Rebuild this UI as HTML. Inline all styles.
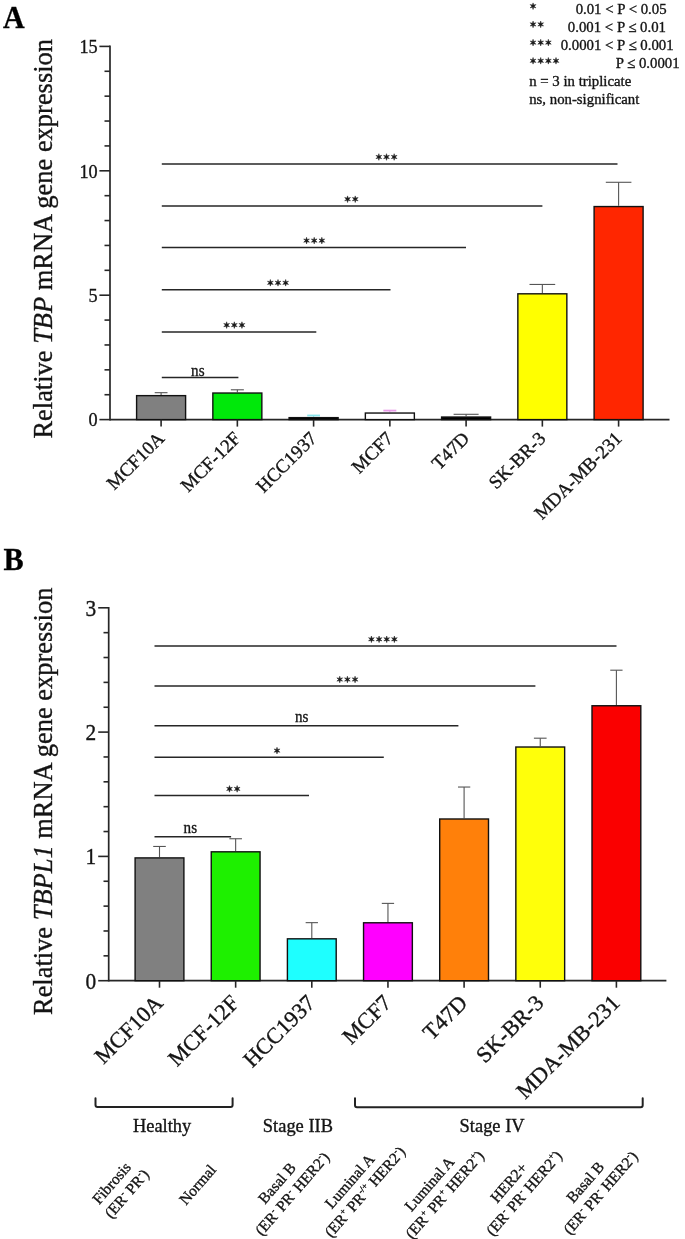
<!DOCTYPE html>
<html><head><meta charset="utf-8"><style>
html,body{margin:0;padding:0;background:#fff;}
body{width:685px;height:1239px;overflow:hidden;}
svg{display:block;font-family:"Liberation Serif", serif;will-change:transform;}
text{stroke:#141414;stroke-width:0.35px;}
</style></head><body>
<svg width="685" height="1239" viewBox="0 0 685 1239">
<rect width="685" height="1239" fill="#fff"/>
<text transform="translate(3.00,27.90) scale(0.97,1)" font-size="30.9" text-anchor="start" font-weight="bold" font-style="normal" fill="#000" >A</text>
<line x1="110.00" y1="45.60" x2="110.00" y2="420.40" stroke="#262626" stroke-width="1.7"/>
<line x1="99.40" y1="419.60" x2="110.00" y2="419.60" stroke="#262626" stroke-width="1.6"/>
<text transform="translate(97.60,426.30) scale(0.93,1)" font-size="19.6" text-anchor="end" font-weight="normal" font-style="normal" fill="#141414" >0</text>
<line x1="104.50" y1="394.72" x2="110.00" y2="394.72" stroke="#262626" stroke-width="1.6"/>
<line x1="104.50" y1="369.84" x2="110.00" y2="369.84" stroke="#262626" stroke-width="1.6"/>
<line x1="104.50" y1="344.96" x2="110.00" y2="344.96" stroke="#262626" stroke-width="1.6"/>
<line x1="104.50" y1="320.08" x2="110.00" y2="320.08" stroke="#262626" stroke-width="1.6"/>
<line x1="99.40" y1="295.20" x2="110.00" y2="295.20" stroke="#262626" stroke-width="1.6"/>
<text transform="translate(97.60,301.90) scale(0.93,1)" font-size="19.6" text-anchor="end" font-weight="normal" font-style="normal" fill="#141414" >5</text>
<line x1="104.50" y1="270.32" x2="110.00" y2="270.32" stroke="#262626" stroke-width="1.6"/>
<line x1="104.50" y1="245.44" x2="110.00" y2="245.44" stroke="#262626" stroke-width="1.6"/>
<line x1="104.50" y1="220.56" x2="110.00" y2="220.56" stroke="#262626" stroke-width="1.6"/>
<line x1="104.50" y1="195.68" x2="110.00" y2="195.68" stroke="#262626" stroke-width="1.6"/>
<line x1="99.40" y1="170.80" x2="110.00" y2="170.80" stroke="#262626" stroke-width="1.6"/>
<text transform="translate(97.60,177.50) scale(0.93,1)" font-size="19.6" text-anchor="end" font-weight="normal" font-style="normal" fill="#141414" >10</text>
<line x1="104.50" y1="145.92" x2="110.00" y2="145.92" stroke="#262626" stroke-width="1.6"/>
<line x1="104.50" y1="121.04" x2="110.00" y2="121.04" stroke="#262626" stroke-width="1.6"/>
<line x1="104.50" y1="96.16" x2="110.00" y2="96.16" stroke="#262626" stroke-width="1.6"/>
<line x1="104.50" y1="71.28" x2="110.00" y2="71.28" stroke="#262626" stroke-width="1.6"/>
<line x1="99.40" y1="46.40" x2="110.00" y2="46.40" stroke="#262626" stroke-width="1.6"/>
<text transform="translate(97.60,53.10) scale(0.93,1)" font-size="19.6" text-anchor="end" font-weight="normal" font-style="normal" fill="#141414" >15</text>
<line x1="110.00" y1="419.60" x2="669.50" y2="419.60" stroke="#262626" stroke-width="1.7"/>
<text transform="translate(52.3,438.6) rotate(-90)" font-size="27.6" textLength="399.6" lengthAdjust="spacingAndGlyphs" fill="#141414">Relative <tspan font-style="italic">TBP</tspan> mRNA gene expression</text>
<line x1="161.10" y1="392.68" x2="161.10" y2="394.89" stroke="#555" stroke-width="1.1"/>
<line x1="154.70" y1="392.68" x2="167.50" y2="392.68" stroke="#555" stroke-width="1.1"/>
<rect x="136.60" y="395.64" width="49.00" height="23.96" fill="#808080" stroke="#111" stroke-width="1.4"/>
<line x1="161.10" y1="419.60" x2="161.10" y2="426.60" stroke="#262626" stroke-width="1.6"/>
<text transform="translate(165.50,439.50) rotate(-45)" font-size="18.9" text-anchor="end" fill="#141414">MCF10A</text>
<line x1="237.35" y1="389.79" x2="237.35" y2="392.28" stroke="#555" stroke-width="1.1"/>
<line x1="230.85" y1="389.79" x2="243.85" y2="389.79" stroke="#555" stroke-width="1.1"/>
<rect x="212.85" y="393.03" width="49.00" height="26.57" fill="#00e80a" stroke="#111" stroke-width="1.4"/>
<line x1="237.35" y1="419.60" x2="237.35" y2="426.60" stroke="#262626" stroke-width="1.6"/>
<text transform="translate(241.75,439.50) rotate(-45)" font-size="18.9" text-anchor="end" fill="#141414">MCF-12F</text>
<line x1="313.60" y1="415.49" x2="313.60" y2="416.89" stroke="#8be6ec" stroke-width="1.1"/>
<line x1="307.20" y1="415.49" x2="320.00" y2="415.49" stroke="#8be6ec" stroke-width="1.8"/>
<rect x="289.10" y="417.64" width="49.00" height="1.96" fill="#000" stroke="#111" stroke-width="1.4"/>
<line x1="313.60" y1="419.60" x2="313.60" y2="426.60" stroke="#262626" stroke-width="1.6"/>
<text transform="translate(318.00,439.50) rotate(-45)" font-size="18.9" text-anchor="end" fill="#141414">HCC1937</text>
<line x1="389.85" y1="410.59" x2="389.85" y2="412.29" stroke="#e89ae8" stroke-width="1.1"/>
<line x1="383.35" y1="410.59" x2="396.35" y2="410.59" stroke="#e89ae8" stroke-width="1.8"/>
<rect x="365.35" y="413.04" width="49.00" height="6.56" fill="#fff" stroke="#111" stroke-width="1.4"/>
<line x1="389.85" y1="419.60" x2="389.85" y2="426.60" stroke="#262626" stroke-width="1.6"/>
<text transform="translate(394.25,439.50) rotate(-45)" font-size="18.9" text-anchor="end" fill="#141414">MCF7</text>
<line x1="466.10" y1="414.30" x2="466.10" y2="416.29" stroke="#555" stroke-width="1.1"/>
<line x1="453.60" y1="414.30" x2="478.60" y2="414.30" stroke="#555" stroke-width="1.1"/>
<rect x="441.60" y="417.04" width="49.00" height="2.56" fill="#000" stroke="#111" stroke-width="1.4"/>
<line x1="466.10" y1="419.60" x2="466.10" y2="426.60" stroke="#262626" stroke-width="1.6"/>
<text transform="translate(470.50,439.50) rotate(-45)" font-size="18.9" text-anchor="end" fill="#141414">T47D</text>
<line x1="542.35" y1="284.45" x2="542.35" y2="293.06" stroke="#555" stroke-width="1.1"/>
<line x1="529.50" y1="284.45" x2="555.20" y2="284.45" stroke="#555" stroke-width="1.1"/>
<rect x="517.85" y="293.81" width="49.00" height="125.79" fill="#ffff00" stroke="#111" stroke-width="1.4"/>
<line x1="542.35" y1="419.60" x2="542.35" y2="426.60" stroke="#262626" stroke-width="1.6"/>
<text transform="translate(546.75,439.50) rotate(-45)" font-size="18.9" text-anchor="end" fill="#141414">SK-BR-3</text>
<line x1="618.60" y1="182.29" x2="618.60" y2="205.81" stroke="#555" stroke-width="1.1"/>
<line x1="605.80" y1="182.29" x2="631.40" y2="182.29" stroke="#555" stroke-width="1.1"/>
<rect x="594.10" y="206.56" width="49.00" height="213.04" fill="#ff2600" stroke="#111" stroke-width="1.4"/>
<line x1="618.60" y1="419.60" x2="618.60" y2="426.60" stroke="#262626" stroke-width="1.6"/>
<text transform="translate(623.00,439.50) rotate(-45)" font-size="18.9" text-anchor="end" fill="#141414">MDA-MB-231</text>
<line x1="161.80" y1="163.90" x2="617.50" y2="163.90" stroke="#262626" stroke-width="1.5"/>
<path d="M378.85,153.70L378.23,155.92L375.99,155.35L377.60,157.00L375.99,158.65L378.23,158.08L378.85,160.30L379.48,158.08L381.71,158.65L380.10,157.00L381.71,155.35L379.48,155.92ZM386.50,153.70L385.88,155.92L383.64,155.35L385.25,157.00L383.64,158.65L385.88,158.08L386.50,160.30L387.12,158.08L389.36,158.65L387.75,157.00L389.36,155.35L387.12,155.92ZM394.15,153.70L393.53,155.92L391.29,155.35L392.90,157.00L391.29,158.65L393.53,158.08L394.15,160.30L394.78,158.08L397.01,158.65L395.40,157.00L397.01,155.35L394.78,155.92Z" fill="#1a1a1a" stroke="#1a1a1a" stroke-width="0.5" stroke-linejoin="round"/>
<line x1="161.80" y1="206.10" x2="542.40" y2="206.10" stroke="#262626" stroke-width="1.5"/>
<path d="M347.57,195.90L346.95,198.12L344.72,197.55L346.32,199.20L344.72,200.85L346.95,200.28L347.57,202.50L348.20,200.28L350.43,200.85L348.82,199.20L350.43,197.55L348.20,198.12ZM355.22,195.90L354.60,198.12L352.37,197.55L353.97,199.20L352.37,200.85L354.60,200.28L355.22,202.50L355.85,200.28L358.08,200.85L356.47,199.20L358.08,197.55L355.85,198.12Z" fill="#1a1a1a" stroke="#1a1a1a" stroke-width="0.5" stroke-linejoin="round"/>
<line x1="161.80" y1="247.50" x2="466.00" y2="247.50" stroke="#262626" stroke-width="1.5"/>
<path d="M306.55,237.30L305.93,239.52L303.69,238.95L305.30,240.60L303.69,242.25L305.93,241.68L306.55,243.90L307.18,241.68L309.41,242.25L307.80,240.60L309.41,238.95L307.18,239.52ZM314.20,237.30L313.57,239.52L311.34,238.95L312.95,240.60L311.34,242.25L313.57,241.68L314.20,243.90L314.82,241.68L317.06,242.25L315.45,240.60L317.06,238.95L314.82,239.52ZM321.85,237.30L321.23,239.52L318.99,238.95L320.60,240.60L318.99,242.25L321.23,241.68L321.85,243.90L322.48,241.68L324.71,242.25L323.10,240.60L324.71,238.95L322.48,239.52Z" fill="#1a1a1a" stroke="#1a1a1a" stroke-width="0.5" stroke-linejoin="round"/>
<line x1="161.80" y1="289.70" x2="390.50" y2="289.70" stroke="#262626" stroke-width="1.5"/>
<path d="M270.35,279.50L269.73,281.72L267.49,281.15L269.10,282.80L267.49,284.45L269.73,283.88L270.35,286.10L270.98,283.88L273.21,284.45L271.60,282.80L273.21,281.15L270.98,281.72ZM278.00,279.50L277.38,281.72L275.14,281.15L276.75,282.80L275.14,284.45L277.38,283.88L278.00,286.10L278.62,283.88L280.86,284.45L279.25,282.80L280.86,281.15L278.62,281.72ZM285.65,279.50L285.03,281.72L282.79,281.15L284.40,282.80L282.79,284.45L285.03,283.88L285.65,286.10L286.28,283.88L288.51,284.45L286.90,282.80L288.51,281.15L286.28,281.72Z" fill="#1a1a1a" stroke="#1a1a1a" stroke-width="0.5" stroke-linejoin="round"/>
<line x1="161.80" y1="332.00" x2="316.30" y2="332.00" stroke="#262626" stroke-width="1.5"/>
<path d="M226.65,321.80L226.03,324.02L223.79,323.45L225.40,325.10L223.79,326.75L226.03,326.18L226.65,328.40L227.28,326.18L229.51,326.75L227.90,325.10L229.51,323.45L227.28,324.02ZM234.30,321.80L233.68,324.02L231.44,323.45L233.05,325.10L231.44,326.75L233.68,326.18L234.30,328.40L234.93,326.18L237.16,326.75L235.55,325.10L237.16,323.45L234.93,324.02ZM241.95,321.80L241.33,324.02L239.09,323.45L240.70,325.10L239.09,326.75L241.33,326.18L241.95,328.40L242.58,326.18L244.81,326.75L243.20,325.10L244.81,323.45L242.58,324.02Z" fill="#1a1a1a" stroke="#1a1a1a" stroke-width="0.5" stroke-linejoin="round"/>
<line x1="161.80" y1="377.50" x2="238.40" y2="377.50" stroke="#262626" stroke-width="1.5"/>
<text transform="translate(197.80,375.50) scale(0.88,1)" font-size="17.2" text-anchor="middle" font-weight="normal" font-style="normal" fill="#141414" >ns</text>
<path d="M533.05,2.90L532.43,5.12L530.19,4.55L531.80,6.20L530.19,7.85L532.43,7.28L533.05,9.50L533.68,7.28L535.91,7.85L534.30,6.20L535.91,4.55L533.68,5.12Z" fill="#1a1a1a" stroke="#1a1a1a" stroke-width="0.5" stroke-linejoin="round"/>
<path d="M533.05,21.10L532.43,23.32L530.19,22.75L531.80,24.40L530.19,26.05L532.43,25.48L533.05,27.70L533.68,25.48L535.91,26.05L534.30,24.40L535.91,22.75L533.68,23.32ZM540.70,21.10L540.08,23.32L537.84,22.75L539.45,24.40L537.84,26.05L540.08,25.48L540.70,27.70L541.33,25.48L543.56,26.05L541.95,24.40L543.56,22.75L541.33,23.32Z" fill="#1a1a1a" stroke="#1a1a1a" stroke-width="0.5" stroke-linejoin="round"/>
<path d="M533.05,39.30L532.43,41.52L530.19,40.95L531.80,42.60L530.19,44.25L532.43,43.68L533.05,45.90L533.68,43.68L535.91,44.25L534.30,42.60L535.91,40.95L533.68,41.52ZM540.70,39.30L540.08,41.52L537.84,40.95L539.45,42.60L537.84,44.25L540.08,43.68L540.70,45.90L541.33,43.68L543.56,44.25L541.95,42.60L543.56,40.95L541.33,41.52ZM548.35,39.30L547.73,41.52L545.49,40.95L547.10,42.60L545.49,44.25L547.73,43.68L548.35,45.90L548.98,43.68L551.21,44.25L549.60,42.60L551.21,40.95L548.98,41.52Z" fill="#1a1a1a" stroke="#1a1a1a" stroke-width="0.5" stroke-linejoin="round"/>
<path d="M533.05,57.50L532.43,59.72L530.19,59.15L531.80,60.80L530.19,62.45L532.43,61.88L533.05,64.10L533.68,61.88L535.91,62.45L534.30,60.80L535.91,59.15L533.68,59.72ZM540.70,57.50L540.08,59.72L537.84,59.15L539.45,60.80L537.84,62.45L540.08,61.88L540.70,64.10L541.33,61.88L543.56,62.45L541.95,60.80L543.56,59.15L541.33,59.72ZM548.35,57.50L547.73,59.72L545.49,59.15L547.10,60.80L545.49,62.45L547.73,61.88L548.35,64.10L548.98,61.88L551.21,62.45L549.60,60.80L551.21,59.15L548.98,59.72ZM556.00,57.50L555.38,59.72L553.14,59.15L554.75,60.80L553.14,62.45L555.38,61.88L556.00,64.10L556.63,61.88L558.86,62.45L557.25,60.80L558.86,59.15L556.63,59.72Z" fill="#1a1a1a" stroke="#1a1a1a" stroke-width="0.5" stroke-linejoin="round"/>
<text x="666.60" y="13.60" font-size="14.8" text-anchor="end" font-weight="normal" font-style="normal" fill="#141414" >0.01 &lt; P &lt; 0.05</text>
<text x="666.00" y="31.60" font-size="14.8" text-anchor="end" font-weight="normal" font-style="normal" fill="#141414" >0.001 &lt; P ≤ 0.01</text>
<text x="673.60" y="49.60" font-size="14.8" text-anchor="end" font-weight="normal" font-style="normal" fill="#141414" >0.0001 &lt; P ≤ 0.001</text>
<text x="679.60" y="67.60" font-size="14.8" text-anchor="end" font-weight="normal" font-style="normal" fill="#141414" >P ≤ 0.0001</text>
<text x="529.20" y="85.60" font-size="14.8" text-anchor="start" font-weight="normal" font-style="normal" fill="#141414" >n = 3 in triplicate</text>
<text x="529.20" y="103.60" font-size="14.8" text-anchor="start" font-weight="normal" font-style="normal" fill="#141414" >ns, non-significant</text>
<text transform="translate(3.40,569.70) scale(0.96,1)" font-size="31.5" text-anchor="start" font-weight="bold" font-style="normal" fill="#000" >B</text>
<line x1="108.70" y1="607.00" x2="108.70" y2="981.50" stroke="#262626" stroke-width="1.7"/>
<line x1="98.20" y1="980.70" x2="108.70" y2="980.70" stroke="#262626" stroke-width="1.6"/>
<text transform="translate(96.30,988.50) scale(0.93,1)" font-size="23" text-anchor="end" font-weight="normal" font-style="normal" fill="#141414" >0</text>
<line x1="103.50" y1="955.84" x2="108.70" y2="955.84" stroke="#262626" stroke-width="1.6"/>
<line x1="103.50" y1="930.98" x2="108.70" y2="930.98" stroke="#262626" stroke-width="1.6"/>
<line x1="103.50" y1="906.12" x2="108.70" y2="906.12" stroke="#262626" stroke-width="1.6"/>
<line x1="103.50" y1="881.26" x2="108.70" y2="881.26" stroke="#262626" stroke-width="1.6"/>
<line x1="98.20" y1="856.40" x2="108.70" y2="856.40" stroke="#262626" stroke-width="1.6"/>
<text transform="translate(96.30,864.20) scale(0.93,1)" font-size="23" text-anchor="end" font-weight="normal" font-style="normal" fill="#141414" >1</text>
<line x1="103.50" y1="831.54" x2="108.70" y2="831.54" stroke="#262626" stroke-width="1.6"/>
<line x1="103.50" y1="806.68" x2="108.70" y2="806.68" stroke="#262626" stroke-width="1.6"/>
<line x1="103.50" y1="781.82" x2="108.70" y2="781.82" stroke="#262626" stroke-width="1.6"/>
<line x1="103.50" y1="756.96" x2="108.70" y2="756.96" stroke="#262626" stroke-width="1.6"/>
<line x1="98.20" y1="732.10" x2="108.70" y2="732.10" stroke="#262626" stroke-width="1.6"/>
<text transform="translate(96.30,739.90) scale(0.93,1)" font-size="23" text-anchor="end" font-weight="normal" font-style="normal" fill="#141414" >2</text>
<line x1="103.50" y1="707.24" x2="108.70" y2="707.24" stroke="#262626" stroke-width="1.6"/>
<line x1="103.50" y1="682.38" x2="108.70" y2="682.38" stroke="#262626" stroke-width="1.6"/>
<line x1="103.50" y1="657.52" x2="108.70" y2="657.52" stroke="#262626" stroke-width="1.6"/>
<line x1="103.50" y1="632.66" x2="108.70" y2="632.66" stroke="#262626" stroke-width="1.6"/>
<line x1="98.20" y1="607.80" x2="108.70" y2="607.80" stroke="#262626" stroke-width="1.6"/>
<text transform="translate(96.30,615.60) scale(0.93,1)" font-size="23" text-anchor="end" font-weight="normal" font-style="normal" fill="#141414" >3</text>
<line x1="108.70" y1="980.70" x2="666.40" y2="980.70" stroke="#262626" stroke-width="1.7"/>
<text transform="translate(52.1,1015) rotate(-90)" font-size="27.6" textLength="427.4" lengthAdjust="spacingAndGlyphs" fill="#141414">Relative <tspan font-style="italic">TBPL1</tspan> mRNA gene expression</text>
<line x1="159.50" y1="846.46" x2="159.50" y2="857.15" stroke="#555" stroke-width="1.1"/>
<line x1="153.20" y1="846.46" x2="165.80" y2="846.46" stroke="#555" stroke-width="1.1"/>
<rect x="135.10" y="857.90" width="48.80" height="122.80" fill="#808080" stroke="#111" stroke-width="1.4"/>
<line x1="159.50" y1="980.70" x2="159.50" y2="987.70" stroke="#262626" stroke-width="1.6"/>
<text transform="translate(164.20,1004.20) rotate(-45)" font-size="22.4" text-anchor="end" fill="#141414">MCF10A</text>
<line x1="235.65" y1="838.75" x2="235.65" y2="851.06" stroke="#555" stroke-width="1.1"/>
<line x1="229.35" y1="838.75" x2="241.95" y2="838.75" stroke="#555" stroke-width="1.1"/>
<rect x="211.25" y="851.81" width="48.80" height="128.89" fill="#1ef000" stroke="#111" stroke-width="1.4"/>
<line x1="235.65" y1="980.70" x2="235.65" y2="987.70" stroke="#262626" stroke-width="1.6"/>
<text transform="translate(240.35,1004.20) rotate(-45)" font-size="22.4" text-anchor="end" fill="#141414">MCF-12F</text>
<line x1="311.80" y1="922.65" x2="311.80" y2="938.07" stroke="#555" stroke-width="1.1"/>
<line x1="305.65" y1="922.65" x2="317.95" y2="922.65" stroke="#555" stroke-width="1.1"/>
<rect x="287.40" y="938.82" width="48.80" height="41.88" fill="#1effff" stroke="#111" stroke-width="1.4"/>
<line x1="311.80" y1="980.70" x2="311.80" y2="987.70" stroke="#262626" stroke-width="1.6"/>
<text transform="translate(316.50,1004.20) rotate(-45)" font-size="22.4" text-anchor="end" fill="#141414">HCC1937</text>
<line x1="387.95" y1="903.39" x2="387.95" y2="922.03" stroke="#555" stroke-width="1.1"/>
<line x1="381.80" y1="903.39" x2="394.10" y2="903.39" stroke="#555" stroke-width="1.1"/>
<rect x="363.55" y="922.78" width="48.80" height="57.92" fill="#ff00ff" stroke="#111" stroke-width="1.4"/>
<line x1="387.95" y1="980.70" x2="387.95" y2="987.70" stroke="#262626" stroke-width="1.6"/>
<text transform="translate(392.65,1004.20) rotate(-45)" font-size="22.4" text-anchor="end" fill="#141414">MCF7</text>
<line x1="464.10" y1="787.04" x2="464.10" y2="818.24" stroke="#555" stroke-width="1.1"/>
<line x1="457.95" y1="787.04" x2="470.25" y2="787.04" stroke="#555" stroke-width="1.1"/>
<rect x="439.70" y="818.99" width="48.80" height="161.71" fill="#ff800a" stroke="#111" stroke-width="1.4"/>
<line x1="464.10" y1="980.70" x2="464.10" y2="987.70" stroke="#262626" stroke-width="1.6"/>
<text transform="translate(468.80,1004.20) rotate(-45)" font-size="22.4" text-anchor="end" fill="#141414">T47D</text>
<line x1="540.25" y1="738.19" x2="540.25" y2="746.27" stroke="#555" stroke-width="1.1"/>
<line x1="533.90" y1="738.19" x2="546.60" y2="738.19" stroke="#555" stroke-width="1.1"/>
<rect x="515.85" y="747.02" width="48.80" height="233.68" fill="#ffff0a" stroke="#111" stroke-width="1.4"/>
<line x1="540.25" y1="980.70" x2="540.25" y2="987.70" stroke="#262626" stroke-width="1.6"/>
<text transform="translate(544.95,1004.20) rotate(-45)" font-size="22.4" text-anchor="end" fill="#141414">SK-BR-3</text>
<line x1="616.40" y1="670.20" x2="616.40" y2="705.00" stroke="#555" stroke-width="1.1"/>
<line x1="610.25" y1="670.20" x2="622.55" y2="670.20" stroke="#555" stroke-width="1.1"/>
<rect x="592.00" y="705.75" width="48.80" height="274.95" fill="#fa0000" stroke="#111" stroke-width="1.4"/>
<line x1="616.40" y1="980.70" x2="616.40" y2="987.70" stroke="#262626" stroke-width="1.6"/>
<text transform="translate(621.10,1004.20) rotate(-45)" font-size="22.4" text-anchor="end" fill="#141414">MDA-MB-231</text>
<line x1="154.50" y1="645.90" x2="616.50" y2="645.90" stroke="#262626" stroke-width="1.5"/>
<path d="M371.42,636.00L370.80,638.22L368.57,637.65L370.17,639.30L368.57,640.95L370.80,640.38L371.42,642.60L372.05,640.38L374.28,640.95L372.67,639.30L374.28,637.65L372.05,638.22ZM379.07,636.00L378.45,638.22L376.22,637.65L377.82,639.30L376.22,640.95L378.45,640.38L379.07,642.60L379.70,640.38L381.93,640.95L380.32,639.30L381.93,637.65L379.70,638.22ZM386.72,636.00L386.10,638.22L383.87,637.65L385.47,639.30L383.87,640.95L386.10,640.38L386.72,642.60L387.35,640.38L389.58,640.95L387.97,639.30L389.58,637.65L387.35,638.22ZM394.37,636.00L393.75,638.22L391.52,637.65L393.12,639.30L391.52,640.95L393.75,640.38L394.37,642.60L395.00,640.38L397.23,640.95L395.62,639.30L397.23,637.65L395.00,638.22Z" fill="#1a1a1a" stroke="#1a1a1a" stroke-width="0.5" stroke-linejoin="round"/>
<line x1="154.50" y1="686.10" x2="535.40" y2="686.10" stroke="#262626" stroke-width="1.5"/>
<path d="M339.75,676.20L339.12,678.42L336.89,677.85L338.50,679.50L336.89,681.15L339.12,680.58L339.75,682.80L340.38,680.58L342.61,681.15L341.00,679.50L342.61,677.85L340.38,678.42ZM347.40,676.20L346.77,678.42L344.54,677.85L346.15,679.50L344.54,681.15L346.77,680.58L347.40,682.80L348.02,680.58L350.26,681.15L348.65,679.50L350.26,677.85L348.02,678.42ZM355.05,676.20L354.43,678.42L352.19,677.85L353.80,679.50L352.19,681.15L354.43,680.58L355.05,682.80L355.68,680.58L357.91,681.15L356.30,679.50L357.91,677.85L355.68,678.42Z" fill="#1a1a1a" stroke="#1a1a1a" stroke-width="0.5" stroke-linejoin="round"/>
<line x1="154.50" y1="725.70" x2="458.40" y2="725.70" stroke="#262626" stroke-width="1.5"/>
<text transform="translate(301.70,721.90) scale(0.88,1)" font-size="17.2" text-anchor="middle" font-weight="normal" font-style="normal" fill="#141414" >ns</text>
<line x1="154.50" y1="757.20" x2="383.80" y2="757.20" stroke="#262626" stroke-width="1.5"/>
<path d="M277.00,747.30L276.38,749.52L274.14,748.95L275.75,750.60L274.14,752.25L276.38,751.68L277.00,753.90L277.62,751.68L279.86,752.25L278.25,750.60L279.86,748.95L277.62,749.52Z" fill="#1a1a1a" stroke="#1a1a1a" stroke-width="0.5" stroke-linejoin="round"/>
<line x1="154.50" y1="795.50" x2="309.00" y2="795.50" stroke="#262626" stroke-width="1.5"/>
<path d="M229.48,785.60L228.85,787.82L226.62,787.25L228.23,788.90L226.62,790.55L228.85,789.98L229.48,792.20L230.10,789.98L232.33,790.55L230.73,788.90L232.33,787.25L230.10,787.82ZM237.13,785.60L236.50,787.82L234.27,787.25L235.88,788.90L234.27,790.55L236.50,789.98L237.13,792.20L237.75,789.98L239.98,790.55L238.38,788.90L239.98,787.25L237.75,787.82Z" fill="#1a1a1a" stroke="#1a1a1a" stroke-width="0.5" stroke-linejoin="round"/>
<line x1="154.50" y1="836.80" x2="231.10" y2="836.80" stroke="#262626" stroke-width="1.5"/>
<text transform="translate(190.30,833.00) scale(0.88,1)" font-size="17.2" text-anchor="middle" font-weight="normal" font-style="normal" fill="#141414" >ns</text>
<path d="M95.5,1098.2 V1104.9 Q95.5,1106.9 97.5,1106.9 H230.6 Q232.6,1106.9 232.6,1104.9 V1098.2" fill="none" stroke="#222" stroke-width="2" stroke-linecap="round"/>
<path d="M355.0,1098.3 V1105.2 Q355.0,1107.2 357.0,1107.2 H640.7 Q642.7,1107.2 642.7,1105.2 V1098.3" fill="none" stroke="#222" stroke-width="2" stroke-linecap="round"/>
<text transform="translate(162.10,1132.10) scale(0.97,1)" font-size="19" text-anchor="middle" font-weight="normal" font-style="normal" fill="#141414" >Healthy</text>
<text transform="translate(297.90,1132.10) scale(0.97,1)" font-size="19" text-anchor="middle" font-weight="normal" font-style="normal" fill="#141414" >Stage IIB</text>
<text transform="translate(492.10,1132.10) scale(0.97,1)" font-size="19" text-anchor="middle" font-weight="normal" font-style="normal" fill="#141414" >Stage IV</text>
<text transform="translate(111.60,1183.10) rotate(-49)" x="0" y="5.08" font-size="15.4" text-anchor="middle" fill="#141414">Fibrosis</text>
<text transform="translate(111.60,1183.10) rotate(-49)" x="2.0" y="23.58" font-size="15.4" text-anchor="middle" fill="#141414">(ER<tspan font-size="9.2" baseline-shift="6.2">-</tspan> PR<tspan font-size="9.2" baseline-shift="6.2">-</tspan>)</text>
<text transform="translate(197.60,1184.70) rotate(-49)" x="0" y="5.08" font-size="15.4" text-anchor="middle" fill="#141414">Normal</text>
<text transform="translate(277.00,1183.20) rotate(-49)" x="0" y="5.08" font-size="15.4" text-anchor="middle" fill="#141414">Basal B</text>
<text transform="translate(277.00,1183.20) rotate(-49)" x="2.0" y="23.58" font-size="15.4" text-anchor="middle" fill="#141414">(ER<tspan font-size="9.2" baseline-shift="6.2">-</tspan> PR<tspan font-size="9.2" baseline-shift="6.2">-</tspan> HER2<tspan font-size="9.2" baseline-shift="6.2">-</tspan>)</text>
<text transform="translate(349.70,1181.20) rotate(-49)" x="0" y="5.08" font-size="15.4" text-anchor="middle" fill="#141414">Luminal A</text>
<text transform="translate(349.70,1181.20) rotate(-49)" x="2.0" y="23.58" font-size="15.4" text-anchor="middle" fill="#141414">(ER<tspan font-size="9.2" baseline-shift="6.2">+</tspan> PR<tspan font-size="9.2" baseline-shift="6.2">-/+</tspan> HER2<tspan font-size="9.2" baseline-shift="6.2">-</tspan>)</text>
<text transform="translate(429.40,1184.00) rotate(-49)" x="0" y="5.08" font-size="15.4" text-anchor="middle" fill="#141414">Luminal A</text>
<text transform="translate(429.40,1184.00) rotate(-49)" x="2.0" y="23.58" font-size="15.4" text-anchor="middle" fill="#141414">(ER<tspan font-size="9.2" baseline-shift="6.2">+</tspan> PR<tspan font-size="9.2" baseline-shift="6.2">+</tspan> HER2<tspan font-size="9.2" baseline-shift="6.2">+</tspan>)</text>
<text transform="translate(508.80,1182.60) rotate(-49)" x="0" y="5.08" font-size="15.4" text-anchor="middle" fill="#141414">HER2+</text>
<text transform="translate(508.80,1182.60) rotate(-49)" x="2.0" y="23.58" font-size="15.4" text-anchor="middle" fill="#141414">(ER<tspan font-size="9.2" baseline-shift="6.2">-</tspan> PR<tspan font-size="9.2" baseline-shift="6.2">-</tspan> HER2<tspan font-size="9.2" baseline-shift="6.2">+</tspan>)</text>
<text transform="translate(585.30,1182.20) rotate(-49)" x="0" y="5.08" font-size="15.4" text-anchor="middle" fill="#141414">Basal B</text>
<text transform="translate(585.30,1182.20) rotate(-49)" x="2.0" y="23.58" font-size="15.4" text-anchor="middle" fill="#141414">(ER<tspan font-size="9.2" baseline-shift="6.2">-</tspan> PR<tspan font-size="9.2" baseline-shift="6.2">-</tspan> HER2<tspan font-size="9.2" baseline-shift="6.2">-</tspan>)</text>
</svg>
</body></html>
